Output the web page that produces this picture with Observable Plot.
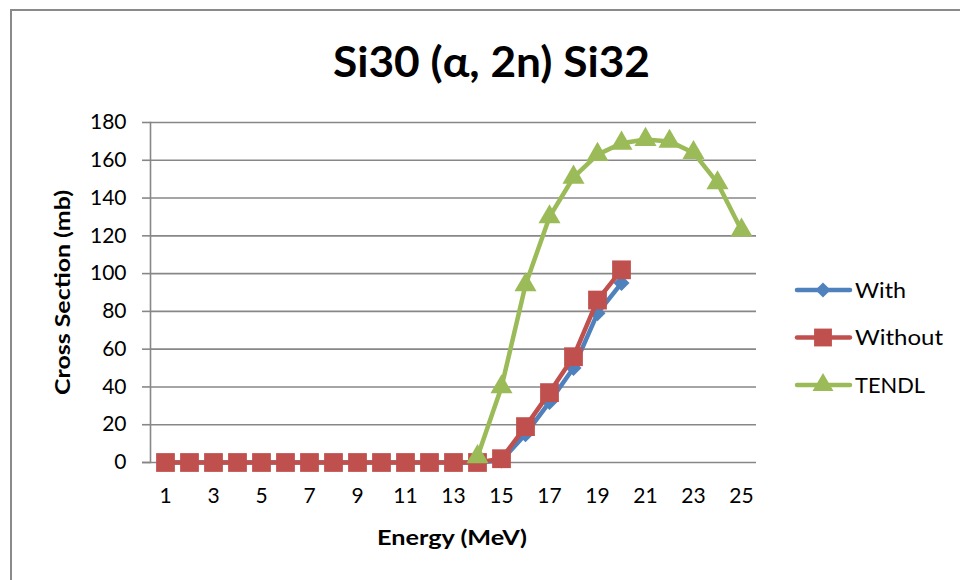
<!DOCTYPE html>
<html>
<head>
<meta charset="utf-8">
<script src="https://cdn.jsdelivr.net/npm/d3@7"></script>
<script src="https://cdn.jsdelivr.net/npm/@observablehq/plot@0.6"></script>
<style>
  html, body { margin: 0; padding: 0; background: #fff; }
  #wrap { position: relative; width: 960px; height: 580px; overflow: hidden; background: #fff; }
  #frame { position: absolute; left: 10px; top: 9px; width: 960px; height: 600px;
           border-left: 2px solid #8a8a8a; border-top: 2px solid #8a8a8a; box-sizing: border-box; }
  #wrap svg { position: absolute; left: 0; top: 0; }
</style>
</head>
<body>
<div id="wrap"><div id="frame"></div></div>
<script>
const energies = [1,2,3,4,5,6,7,8,9,10,11,12,13,14,15,16,17,18,19,20,21,22,23,24,25];
const withValues    = [0,0,0,0,0,0,0,0,0,0,0,0,0,0,1,15,32,50,79,95];
const withoutValues = [0,0,0,0,0,0,0,0,0,0,0,0,0,0,2,19,37,56,86,102];
const tendlEnergies = [14,15,16,17,18,19,20,21,22,23,24,25];
const tendlValues   = [3,40,94,130,151,163,169,171,170,164,148,123];
const xTickLabels = [1,3,5,7,9,11,13,15,17,19,21,23,25];
const yTicks = [0,20,40,60,80,100,120,140,160,180];

const seriesNames = ["With", "Without", "TENDL"];
const seriesColors = ["#4F81BD", "#C0504D", "#9BBB59"];
const seriesSymbols = ["diamond2", "square", "triangle"];
const seriesR = [7.2, 10.6, 8.2];

const withData = withValues.map((v, i) => ({x: energies[i], y: v}));
const withoutData = withoutValues.map((v, i) => ({x: energies[i], y: v}));
const tendlData = tendlValues.map((v, i) => ({x: tendlEnergies[i], y: v}));
const allSeries = [withData, withoutData, tendlData];

const font = "Lato, 'Open Sans', sans-serif";
const grid = "#878787";

const marks = [
  Plot.ruleY(yTicks.filter(d => d > 0), {stroke: grid, strokeWidth: 1.6}),
  Plot.ruleY([0], {stroke: grid, strokeWidth: 1.6, insetLeft: -8})
];
allSeries.forEach((data, i) => {
  marks.push(Plot.line(data, {x: "x", y: "y", stroke: seriesColors[i], strokeWidth: 4.5, strokeLinejoin: "round"}));
  marks.push(Plot.dot(data, {x: "x", y: "y", symbol: () => seriesSymbols[i], r: seriesR[i], fill: seriesColors[i], stroke: "none"}));
});

const chart = Plot.plot({
  width: 960,
  height: 580,
  marginLeft: 150,
  marginRight: 204,
  marginTop: 122,
  marginBottom: 118,
  style: {fontFamily: font, fontSize: "20px", color: "#000", background: "transparent", overflow: "visible"},
  x: {type: "point", domain: energies, padding: 0.5, align: 0.5, label: null},
  y: {domain: [0, 180], label: null},
  symbol: {type: "identity"},
  marks: [
    Plot.frame({anchor: "left", stroke: grid, strokeWidth: 1.6, strokeOpacity: 1}),
    ...marks,
    Plot.axisY({ticks: yTicks, tickSize: 8, tickPadding: 16, fontSize: 21, label: null, fill: "#000", stroke: grid, strokeWidth: 1.6}),
    Plot.axisX({ticks: xTickLabels, tickSize: 0, tickPadding: 26, fontSize: 21, label: null, fill: "#000"})
  ]
});
document.getElementById("wrap").appendChild(chart);

const svg = d3.select(chart);

function addText(opts) {
  const t = svg.append("text")
    .attr("font-family", font)
    .attr("font-weight", opts.bold ? "bold" : "normal")
    .attr("font-size", opts.size)
    .attr("text-anchor", opts.anchor || "middle")
    .attr("fill", "#000")
    .text(opts.text);
  if (opts.transform) t.attr("transform", opts.transform);
  else t.attr("x", opts.x).attr("y", opts.y);
  if (opts.len) t.attr("textLength", opts.len).attr("lengthAdjust", "spacingAndGlyphs");
  return t;
}

// Title
addText({text: "Si30 (α, 2n) Si32", x: 491.5, y: 77, size: 42, bold: true, len: 317});
// Axis titles
addText({text: "Cross Section (mb)", transform: "translate(70,292.5) rotate(-90)", size: 21, bold: true, len: 205});
addText({text: "Energy (MeV)", x: 452, y: 545, size: 21, bold: true, len: 150});

// Legend
const legendLens = [51, 88, 70];
const legend = svg.append("g");
seriesNames.forEach((name, i) => {
  const y = 290 + i * 47.5;
  legend.append("line").attr("x1", 797).attr("x2", 850).attr("y1", y).attr("y2", y)
    .attr("stroke", seriesColors[i]).attr("stroke-width", 4.5).attr("stroke-linecap", "round");
  const sym = {diamond2: d3.symbolDiamond2, square: d3.symbolSquare, triangle: d3.symbolTriangle}[seriesSymbols[i]];
  const lr = seriesR[i] * 0.95;
  legend.append("path").attr("d", d3.symbol(sym, lr * lr * Math.PI)())
    .attr("transform", `translate(823,${y})`).attr("fill", seriesColors[i]);
  addText({text: name, x: 855, y: y + 7.5, size: 21, anchor: "start", len: legendLens[i]});
});
</script>
</body>
</html>
